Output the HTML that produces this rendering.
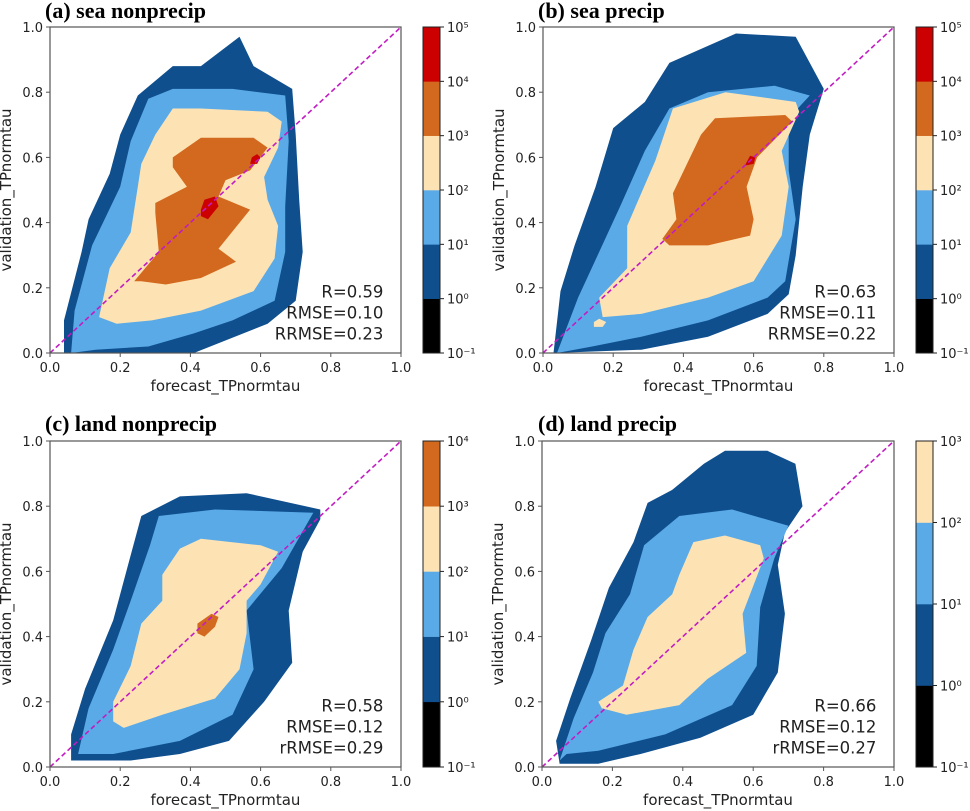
<!DOCTYPE html>
<html><head><meta charset="utf-8">
<style>
html,body{margin:0;padding:0;background:#fff;}
svg{display:block;}
text{font-family:"DejaVu Sans","Liberation Sans",sans-serif;}
.title{font-family:"Liberation Serif",serif;font-weight:bold;font-size:22px;}
</style></head>
<body>
<svg id="chart" width="970" height="811" viewBox="0 0 970 811"></svg>
<script>
// ---- data: contour band outlines in data units (x = forecast, y = validation) ----
const titles = ["(a) sea nonprecip","(b) sea precip","(c) land nonprecip","(d) land precip"];
const statsA = ["R=0.59","RMSE=0.10","RRMSE=0.23"];
const statsB = ["R=0.63","RMSE=0.11","RRMSE=0.22"];
const statsC = ["R=0.58","RMSE=0.12","rRMSE=0.29"];
const statsD = ["R=0.66","RMSE=0.12","rRMSE=0.27"];
const xTicks = [0,0.2,0.4,0.6,0.8,1.0];
const yTicks = [0,0.2,0.4,0.6,0.8,1.0];
const cbarExpA = [-1,0,1,2,3,4,5];
const cbarExpB = [-1,0,1,2,3,4,5];
const cbarExpC = [-1,0,1,2,3,4];
const cbarExpD = [-1,0,1,2,3];

const aBand1 = [[0.04,0],[0.04,0.10],[0.09,0.31],[0.11,0.41],[0.17,0.55],[0.20,0.67],[0.25,0.79],[0.35,0.88],[0.43,0.88],[0.54,0.97],[0.58,0.88],[0.69,0.81],[0.70,0.67],[0.71,0.47],[0.72,0.31],[0.70,0.16],[0.62,0.09],[0.41,0]];
const aBand2 = [[0.06,0],[0.07,0.13],[0.12,0.33],[0.20,0.51],[0.23,0.65],[0.28,0.78],[0.35,0.81],[0.52,0.81],[0.67,0.79],[0.68,0.65],[0.67,0.45],[0.67,0.31],[0.64,0.16],[0.52,0.10],[0.41,0.06],[0.28,0.02],[0.13,0.01]];
const aBand3 = [[0.14,0.11],[0.17,0.26],[0.23,0.37],[0.25,0.51],[0.26,0.58],[0.30,0.67],[0.35,0.75],[0.43,0.75],[0.62,0.74],[0.66,0.71],[0.65,0.63],[0.61,0.54],[0.62,0.47],[0.65,0.39],[0.64,0.29],[0.58,0.19],[0.43,0.13],[0.29,0.10],[0.19,0.09]];
const aBand4 = [[0.24,0.22],[0.31,0.31],[0.30,0.43],[0.30,0.46],[0.39,0.51],[0.35,0.57],[0.35,0.60],[0.43,0.66],[0.58,0.66],[0.62,0.63],[0.57,0.56],[0.50,0.53],[0.48,0.48],[0.57,0.44],[0.48,0.32],[0.53,0.28],[0.43,0.23],[0.33,0.21],[0.26,0.22]];
const aBand5 = [[0.43,0.42],[0.45,0.41],[0.48,0.45],[0.47,0.48],[0.44,0.47],[0.43,0.44]];
const aBand5b = [[0.57,0.58],[0.59,0.58],[0.60,0.60],[0.59,0.61],[0.575,0.60]];

const bBand1 = [[0.03,0],[0.05,0.19],[0.09,0.33],[0.15,0.51],[0.20,0.69],[0.29,0.77],[0.36,0.89],[0.55,0.98],[0.72,0.97],[0.80,0.81],[0.76,0.67],[0.74,0.51],[0.72,0.30],[0.70,0.18],[0.64,0.12],[0.47,0.05],[0.28,0.01]];
const bBand2 = [[0.04,0],[0.10,0.17],[0.16,0.31],[0.22,0.45],[0.29,0.62],[0.36,0.75],[0.47,0.80],[0.66,0.82],[0.76,0.79],[0.70,0.72],[0.70,0.56],[0.72,0.41],[0.69,0.22],[0.64,0.17],[0.47,0.10],[0.28,0.05],[0.14,0.02]];
const bBand3 = [[0.16,0.17],[0.24,0.26],[0.24,0.39],[0.32,0.59],[0.37,0.75],[0.52,0.80],[0.72,0.77],[0.73,0.74],[0.68,0.62],[0.70,0.51],[0.68,0.36],[0.60,0.22],[0.47,0.17],[0.28,0.12],[0.17,0.11]];
const bBand3b = [[0.145,0.08],[0.17,0.08],[0.18,0.095],[0.16,0.105],[0.145,0.095]];
const bBand4 = [[0.34,0.35],[0.38,0.41],[0.37,0.49],[0.45,0.67],[0.49,0.72],[0.69,0.73],[0.71,0.71],[0.61,0.60],[0.58,0.51],[0.60,0.41],[0.59,0.36],[0.47,0.33],[0.36,0.33]];
const bBand5 = [[0.575,0.575],[0.60,0.58],[0.605,0.60],[0.59,0.605]];

const cBand1 = [[0.06,0.02],[0.06,0.10],[0.10,0.24],[0.18,0.45],[0.22,0.61],[0.26,0.77],[0.37,0.83],[0.56,0.84],[0.77,0.79],[0.77,0.76],[0.72,0.66],[0.68,0.48],[0.69,0.32],[0.61,0.20],[0.51,0.08],[0.37,0.04],[0.23,0.02]];
const cBand2 = [[0.08,0.04],[0.11,0.18],[0.18,0.36],[0.23,0.51],[0.285,0.68],[0.31,0.77],[0.47,0.79],[0.75,0.78],[0.66,0.61],[0.56,0.48],[0.58,0.30],[0.52,0.16],[0.37,0.08],[0.18,0.04]];
const cBand3 = [[0.18,0.14],[0.18,0.20],[0.23,0.31],[0.26,0.44],[0.32,0.51],[0.32,0.59],[0.37,0.67],[0.43,0.70],[0.60,0.68],[0.65,0.66],[0.60,0.56],[0.56,0.51],[0.56,0.41],[0.54,0.30],[0.47,0.21],[0.32,0.16],[0.21,0.12]];
const cBand4 = [[0.42,0.41],[0.44,0.40],[0.47,0.43],[0.48,0.46],[0.46,0.47],[0.42,0.44]];

const dBand1 = [[0.05,0.01],[0.04,0.08],[0.08,0.21],[0.14,0.39],[0.19,0.55],[0.26,0.69],[0.30,0.81],[0.37,0.85],[0.46,0.93],[0.52,0.97],[0.64,0.97],[0.72,0.93],[0.74,0.80],[0.69,0.72],[0.67,0.62],[0.69,0.47],[0.67,0.29],[0.60,0.16],[0.45,0.09],[0.28,0.04],[0.16,0.01]];
const dBand2 = [[0.05,0.02],[0.09,0.15],[0.145,0.29],[0.18,0.41],[0.25,0.53],[0.29,0.68],[0.39,0.77],[0.54,0.79],[0.70,0.74],[0.66,0.64],[0.62,0.49],[0.61,0.31],[0.54,0.19],[0.35,0.10],[0.16,0.05],[0.07,0.04]];
const dBand3 = [[0.16,0.20],[0.23,0.25],[0.26,0.36],[0.30,0.46],[0.37,0.53],[0.39,0.59],[0.43,0.69],[0.52,0.71],[0.62,0.68],[0.63,0.64],[0.57,0.47],[0.58,0.35],[0.47,0.27],[0.39,0.19],[0.24,0.16],[0.17,0.18]];

const C = {k:"#000000", db:"#0f4f8e", lb:"#5aaae8", wh:"#fde3b3", or:"#d2691f", rd:"#cc0000"};
const cbarColors = [C.k, C.db, C.lb, C.wh, C.or, C.rd];

// ---- layout (not data) ----
const panels = [
 {L:50,R:401,T:27,B:353,cx:423,tx:45,ty:18,stats:statsA,cb:cbarExpA,bands:[[aBand1,C.db],[aBand2,C.lb],[aBand3,C.wh],[aBand4,C.or],[aBand5,C.rd],[aBand5b,C.rd]],key:"a"},
 {L:543,R:894,T:27,B:353,cx:916,tx:538,ty:18,stats:statsB,cb:cbarExpB,bands:[[bBand1,C.db],[bBand2,C.lb],[bBand3,C.wh],[bBand3b,C.wh],[bBand4,C.or],[bBand5,C.rd]],key:"b"},
 {L:50,R:401,T:441,B:767,cx:423,tx:45,ty:431,stats:statsC,cb:cbarExpC,bands:[[cBand1,C.db],[cBand2,C.lb],[cBand3,C.wh],[cBand4,C.or]],key:"c"},
 {L:542,R:894,T:441,B:767,cx:916,tx:538,ty:431,stats:statsD,cb:cbarExpD,bands:[[dBand1,C.db],[dBand2,C.lb],[dBand3,C.wh]],key:"d"}
];
const NS="http://www.w3.org/2000/svg";
const svg=document.getElementById("chart");
function mk(tag,attrs,parent){const e=document.createElementNS(NS,tag);for(const k in attrs)e.setAttribute(k,attrs[k]);(parent||svg).appendChild(e);return e;}
const sup={"-":"\u207B","0":"\u2070","1":"\u00B9","2":"\u00B2","3":"\u00B3","4":"\u2074","5":"\u2075"};

panels.forEach((p,i)=>{
  const sx=v=>p.L+v*(p.R-p.L), sy=v=>p.B-v*(p.B-p.T);
  const g=mk("g",{});
  
  
  const t=mk("text",{x:p.tx,y:p.ty,class:"title"},g); t.textContent=titles[i];
  
  
  p.bands.forEach((b,j)=>{
    const poly=mk("polygon",{points:b[0].map(q=>sx(q[0]).toFixed(1)+","+sy(q[1]).toFixed(1)).join(" "),fill:b[1]},g);
    
    
  });
  const ln=mk("line",{x1:sx(0),y1:sy(0),x2:sx(1),y2:sy(1),stroke:"#c21cc2","stroke-width":1.6,"stroke-dasharray":"5,3"},g);
  
  
  const fr=mk("rect",{x:p.L,y:p.T,width:p.R-p.L,height:p.B-p.T,fill:"none",stroke:"#555","stroke-width":1.2},g);
  
  
  xTicks.forEach(v=>{
    mk("line",{x1:sx(v),y1:p.B,x2:sx(v),y2:p.B+4,stroke:"#555"},g);
    const tx=mk("text",{x:sx(v),y:p.B+19,"text-anchor":"middle","font-size":13,fill:"#222"},g);tx.textContent=v.toFixed(1);
    
    
  });
  yTicks.forEach(v=>{
    mk("line",{x1:p.L-4,y1:sy(v),x2:p.L,y2:sy(v),stroke:"#555"},g);
    const ty=mk("text",{x:p.L-7,y:sy(v)+5,"text-anchor":"end","font-size":13,fill:"#222"},g);ty.textContent=v.toFixed(1);
    
    
  });
  const xl=mk("text",{x:(p.L+p.R)/2,y:p.B+38,"text-anchor":"middle","font-size":15,fill:"#222"},g);xl.textContent="forecast_TPnormtau";
  
  
  const yx=p.L-39, yc=(p.T+p.B)/2;
  const yl=mk("text",{x:yx,y:yc,"text-anchor":"middle","font-size":15,fill:"#222",transform:`rotate(-90 ${yx} ${yc})`},g);yl.textContent="validation_TPnormtau";
  
  
  p.stats.forEach((s,k)=>{
    const st=mk("text",{x:sx(0.95),y:sy(0.17)+k*21,"text-anchor":"end","font-size":16.5,fill:"#222"},g);st.textContent=s;
    
    
  });
  // colorbar
  const n=p.cb.length-1, h=(p.B-p.T)/n, w=17;
  for(let k=0;k<n;k++){
    const r=mk("rect",{x:p.cx,y:p.B-(k+1)*h,width:w,height:h+0.3,fill:cbarColors[k]},g);
    
    
  }
  mk("rect",{x:p.cx,y:p.T,width:w,height:p.B-p.T,fill:"none",stroke:"#222","stroke-width":1},g);
  p.cb.forEach((e,k)=>{
    const y=p.B-k*h;
    mk("line",{x1:p.cx+w,y1:y,x2:p.cx+w+4,y2:y,stroke:"#222"},g);
    const ct=mk("text",{x:p.cx+w+7,y:y+5,"font-size":13,fill:"#222"},g);
    ct.textContent="10"+String(e).split("").map(c=>sup[c]).join("");
    
    
  });
});
</script>
</body></html>
